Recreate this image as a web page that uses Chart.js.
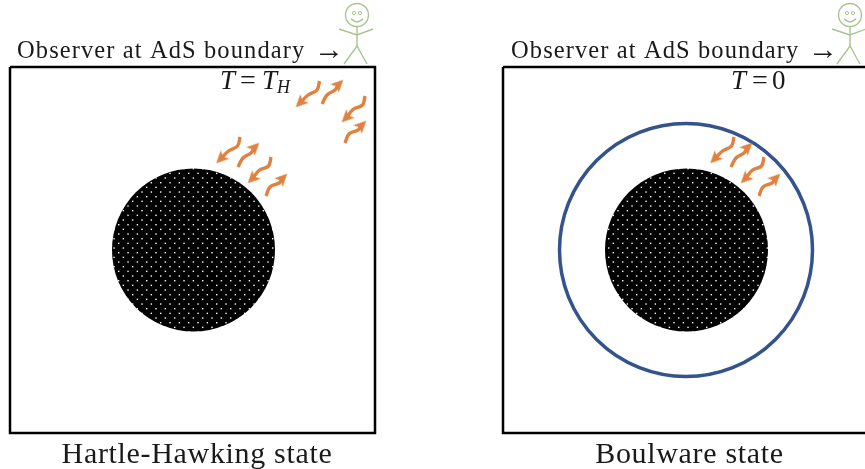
<!DOCTYPE html>
<html>
<head>
<meta charset="utf-8">
<style>
  html, body { margin: 0; padding: 0; background: #fff; }
  canvas { display: block; }
</style>
<script src="https://cdn.jsdelivr.net/npm/chart.js@4"></script>
</head>
<body>
<canvas id="diagram" width="865" height="469"></canvas>
<script>
// picture is plotted in one linear x/y system, y going down
const leftFrame = [{x: 10, y: 67}, {x: 375, y: 67}, {x: 375, y: 433}, {x: 10, y: 433}, {x: 10, y: 67}];
const rightFrame = [{x: 503, y: 67}, {x: 869, y: 67}, {x: 869, y: 433}, {x: 503, y: 433}, {x: 503, y: 67}];
const holes = [{x: 193.5, y: 250}, {x: 686.5, y: 250}];
const mirror = [{x: 686, y: 250}];

// orange wiggles, inward ones end towards the hole
const inwardArrows = [
  [{x: 319.5, y: 81}, {x: 317, y: 90}, {x: 308, y: 95}, {x: 301, y: 102}],
  [{x: 365, y: 96}, {x: 362.5, y: 105}, {x: 353, y: 109.5}, {x: 347, y: 117}],
  [{x: 240, y: 137}, {x: 237.5, y: 146}, {x: 228.5, y: 151}, {x: 221.5, y: 158}],
  [{x: 271, y: 157}, {x: 268.5, y: 166}, {x: 259, y: 170.5}, {x: 253, y: 178}],
  [{x: 734, y: 137}, {x: 731.5, y: 146}, {x: 722.5, y: 151}, {x: 715.5, y: 158}],
  [{x: 764, y: 157}, {x: 761.5, y: 166}, {x: 752, y: 170.5}, {x: 746, y: 178}]
];
const outwardArrows = [
  [{x: 322, y: 104}, {x: 327, y: 95}, {x: 335, y: 90}, {x: 338, y: 85}],
  [{x: 345, y: 143}, {x: 349, y: 134}, {x: 358, y: 130}, {x: 361, y: 126}],
  [{x: 238, y: 167}, {x: 243, y: 158}, {x: 251, y: 153}, {x: 254, y: 148}],
  [{x: 266, y: 196}, {x: 270, y: 187}, {x: 279, y: 183}, {x: 282, y: 179}],
  [{x: 731, y: 167}, {x: 736, y: 158}, {x: 744, y: 153}, {x: 747, y: 148}],
  [{x: 759, y: 196}, {x: 763, y: 187}, {x: 772, y: 183}, {x: 775, y: 179}]
];

// stick figures
const heads = [{x: 357, y: 15}, {x: 850, y: 15}];
const eyes = [{x: 354, y: 13}, {x: 360, y: 13}, {x: 847, y: 13}, {x: 853, y: 13}];
const smiles = [
  [{x: 351, y: 19}, {x: 357, y: 22}, {x: 363, y: 19}],
  [{x: 844, y: 19}, {x: 850, y: 22}, {x: 856, y: 19}]
];
const limbs = [
  [{x: 339, y: 29}, {x: 357, y: 35}, {x: 373, y: 29}],
  [{x: 357, y: 27}, {x: 357, y: 46}],
  [{x: 344, y: 64}, {x: 357, y: 46}, {x: 367, y: 64}],
  [{x: 832, y: 29}, {x: 850, y: 35}, {x: 866, y: 29}],
  [{x: 850, y: 27}, {x: 850, y: 46}],
  [{x: 837, y: 64}, {x: 850, y: 46}, {x: 860, y: 64}]
];

const observerLabel = 'Observer at AdS boundary';
const arrowGlyph = '\u2192';
const stateLabels = ['Hartle-Hawking state', 'Boulware state'];

const orange = '#e0813f';
const green = '#a9c490';

// white dots on black for the holes, staggered rows
function dotPattern() {
  const tile = document.createElement('canvas');
  tile.width = 28;
  tile.height = 28;
  const c = tile.getContext('2d');
  c.fillStyle = '#000';
  c.fillRect(0, 0, 28, 28);
  c.fillStyle = '#fff';
  const step = 28 / 3;
  for (let row = 0; row < 6; row++) {
    for (let col = 0; col < 3; col++) {
      const dx = 6 + col * step + (row % 2 ? step / 2 : 0);
      c.fillRect(dx % 28, row * step / 2, 1.4, 1.4);
    }
  }
  return document.getElementById('diagram').getContext('2d').createPattern(tile, 'repeat');
}

// barbed head, points up before rotation
function dartHead() {
  const head = document.createElement('canvas');
  head.width = 16;
  head.height = 16;
  const c = head.getContext('2d');
  c.fillStyle = orange;
  c.beginPath();
  c.moveTo(8, 0.5);
  c.lineTo(14, 13);
  c.lineTo(8, 10);
  c.lineTo(2, 13);
  c.closePath();
  c.fill();
  return head;
}
const dart = dartHead();

function lineSet(points, color, width, tension) {
  return {
    type: 'line', data: points, borderColor: color, borderWidth: width,
    tension: tension, pointRadius: 0, fill: false
  };
}

function arrowSet(points, rotation) {
  const radius = points.map((p, i) => i === points.length - 1 ? 6 : 0);
  return {
    type: 'line', data: points, borderColor: orange, borderWidth: 3.4, tension: 0.4, fill: false,
    pointStyle: dart, pointRadius: radius, pointRotation: rotation, pointBorderWidth: 0
  };
}

const textPlugin = {
  id: 'texts',
  afterDraw(chart) {
    const c = chart.ctx;
    const sx = chart.scales.x, sy = chart.scales.y;
    const put = (text, x, y, font, align) => {
      c.font = font;
      c.textAlign = align || 'left';
      c.textBaseline = 'alphabetic';
      c.fillStyle = '#1a1a1a';
      c.fillText(text, sx.getPixelForValue(x), sy.getPixelForValue(y));
    };
    c.save();
    const serif = '"Liberation Serif"';
    c.letterSpacing = '1.1px';
    put(observerLabel, 17, 58, '24.5px ' + serif);
    put(observerLabel, 511, 58, '24.5px ' + serif);
    c.letterSpacing = '0.67px';
    put(stateLabels[0], 197, 463, '30px ' + serif, 'center');
    put(stateLabels[1], 689.5, 463, '30px ' + serif, 'center');
    c.letterSpacing = '0px';
    put(arrowGlyph, 314, 58.5, '30px ' + serif);
    put(arrowGlyph, 808, 58.5, '30px ' + serif);
    // T = T_H, T = 0
    put('T', 220, 89, 'italic 27px ' + serif);
    put('=', 240, 89, '28px ' + serif);
    put('T', 262, 89, 'italic 27px ' + serif);
    put('H', 277, 93, 'italic 18px ' + serif);
    put('T', 731, 89, 'italic 27px ' + serif);
    put('=', 752, 89, '28px ' + serif);
    put('0', 772, 89, '27px ' + serif);
    c.restore();
  }
};

new Chart(document.getElementById('diagram'), {
  type: 'scatter',
  data: {
    datasets: [
      ...inwardArrows.map(a => arrowSet(a, 225)),
      ...outwardArrows.map(a => arrowSet(a, 45)),
      lineSet(leftFrame, '#000', 2.5, 0),
      lineSet(rightFrame, '#000', 2.5, 0),
      { data: mirror, pointRadius: 126.5, pointBackgroundColor: 'rgba(0,0,0,0)', pointBorderColor: '#34528c', pointBorderWidth: 3.5 },
      { data: holes, pointRadius: 81.5, pointBackgroundColor: dotPattern(), pointBorderWidth: 0 },
      { data: heads, pointRadius: 11.5, pointBackgroundColor: 'rgba(0,0,0,0)', pointBorderColor: green, pointBorderWidth: 1.4 },
      { data: eyes, pointRadius: 1.6, pointBackgroundColor: 'rgba(0,0,0,0)', pointBorderColor: green, pointBorderWidth: 1 },
      ...smiles.map(s => lineSet(s, green, 1.4, 0.4)),
      ...limbs.map(l => lineSet(l, green, 1.4, 0))
    ]
  },
  options: {
    responsive: false,
    animation: false,
    events: [],
    layout: { padding: 0, autoPadding: false },
    plugins: { legend: { display: false }, tooltip: { enabled: false } },
    scales: {
      x: { type: 'linear', min: 0, max: 865, display: false },
      y: { type: 'linear', min: 0, max: 469, reverse: true, display: false }
    }
  },
  plugins: [textPlugin]
});
</script>
</body>
</html>
